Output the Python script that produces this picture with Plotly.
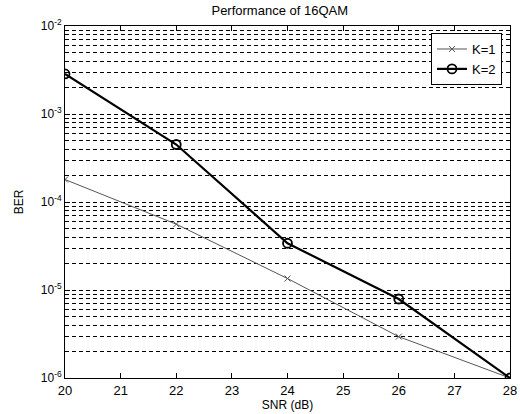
import plotly.graph_objects as go

snr = [20, 22, 24, 26, 28]
ber_k1 = [1.8e-4, 5.6e-5, 1.35e-5, 2.95e-6, 1.0e-6]
ber_k2 = [2.85e-3, 4.5e-4, 3.4e-5, 7.9e-6, 1.0e-6]

decades = [1e-6, 1e-5, 1e-4, 1e-3, 1e-2]
decade_labels = ["10<sup>-6</sup>", "10<sup>-5</sup>", "10<sup>-4</sup>",
                 "10<sup>-3</sup>", "10<sup>-2</sup>"]
minor_vals = [m * d for d in decades[:-1] for m in range(2, 10)]

fig = go.Figure()
fig.add_trace(go.Scatter(
    x=snr, y=ber_k1, name="K=1", mode="lines+markers",
    line=dict(color="#555555", width=1),
    marker=dict(symbol="x-thin-open", size=6, line=dict(color="#555555", width=1)),
))
fig.add_trace(go.Scatter(
    x=snr, y=ber_k2, name="K=2", mode="lines+markers",
    line=dict(color="black", width=2.2),
    marker=dict(symbol="circle-open", size=9, color="black", line=dict(color="black", width=1.8)),
))

font = dict(family="Liberation Sans, Arial, sans-serif", size=12, color="black")

fig.update_layout(
    width=520, height=414,
    margin=dict(l=65, r=10, t=26, b=36),
    paper_bgcolor="white", plot_bgcolor="white",
    font=font,
    title=dict(text="Performance of 16QAM", x=0.538, xanchor="center",
               y=0.985, yanchor="top", font=dict(size=13)),
    showlegend=True,
    legend=dict(x=0.982, y=0.98, xanchor="right", yanchor="top",
                bordercolor="black", borderwidth=1, bgcolor="white",
                font=dict(size=13), tracegroupgap=0, itemwidth=30),
    xaxis=dict(
        range=[20, 28], tickvals=list(range(20, 29)),
        ticks="inside", ticklen=5, tickcolor="black",
        tickfont=dict(size=13), automargin=False,
        showline=True, linecolor="black", linewidth=1, mirror="allticks",
        showgrid=False, zeroline=False,
        title=dict(text="SNR (dB)", standoff=2, font=dict(size=12)),
    ),
    yaxis=dict(
        type="log", range=[-6, -2],
        tickvals=decades, ticktext=decade_labels,
        ticks="inside", ticklen=5, tickcolor="black",
        tickfont=dict(size=12), automargin=False,
        showline=True, linecolor="black", linewidth=1, mirror="allticks",
        showgrid=True, gridcolor="black", gridwidth=1, griddash="4px,3px",
        minor=dict(tickvals=minor_vals, showgrid=True, gridcolor="black",
                   gridwidth=1, griddash="4px,3px", ticks=""),
        zeroline=False,
        title=dict(text="BER", standoff=14, font=dict(size=12)),
    ),
)

fig.write_html("out.html")
